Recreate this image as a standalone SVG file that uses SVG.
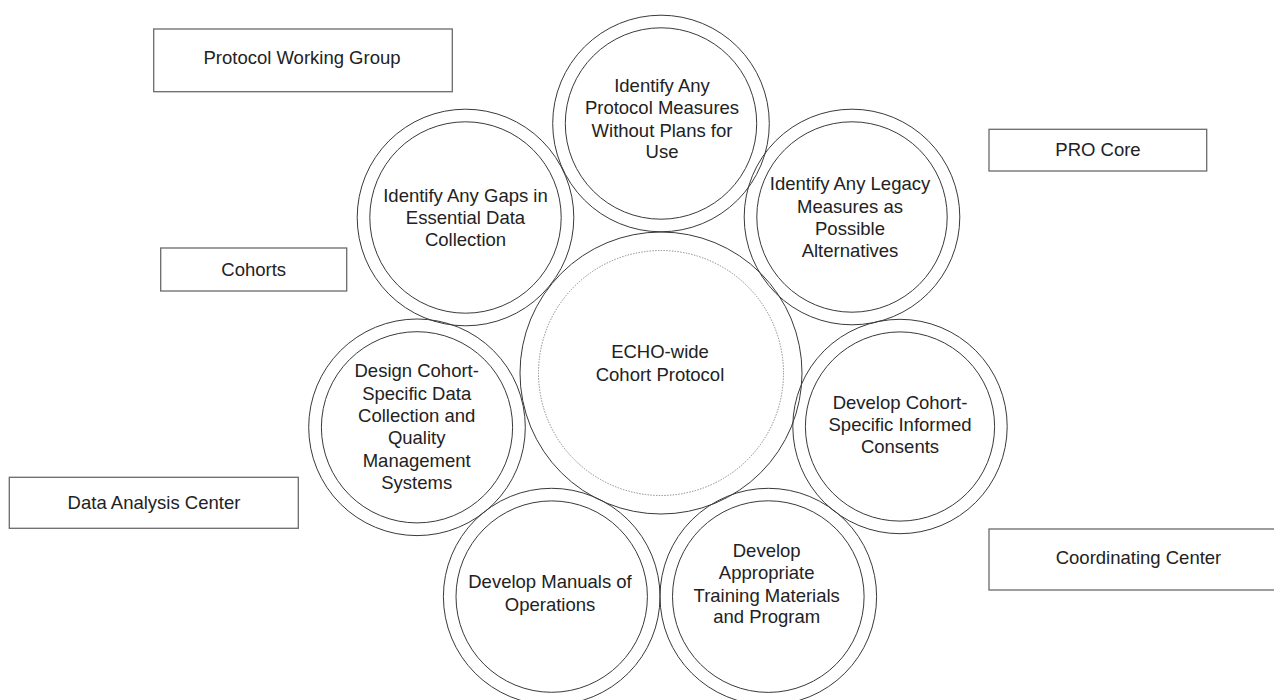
<svg xmlns="http://www.w3.org/2000/svg" width="1274" height="700" viewBox="0 0 1274 700">
<style>
  .bg { fill: #ffffff; }
  .box { fill: none; stroke: #6a6a6a; stroke-width: 1.3; }
  .ring { fill: none; stroke: #3a3a3a; stroke-width: 1; }
  .dots { fill: none; stroke: #7a7a7a; stroke-width: 0.9; stroke-dasharray: 1.4 1.4; }
  text { font-family: "Liberation Sans", Arial, Helvetica, sans-serif; font-size: 18.5px; fill: #222222; text-anchor: middle; }
</style>
<rect class="bg" x="0" y="0" width="1274" height="700"/>

<g id="connectors"></g>

<g id="center">
  <circle class="ring" cx="661" cy="373" r="141"/>
  <circle class="dots" cx="661" cy="373" r="122.5"/>
  <text x="660" y="358">ECHO-wide</text>
  <text x="660" y="380.7">Cohort Protocol</text>
</g>

<g id="top-measures">
  <circle class="ring" cx="661" cy="123.5" r="108.3"/>
  <circle class="ring" cx="661" cy="123.5" r="95.7"/>
  <text x="662" y="91.7">Identify Any</text>
  <text x="662" y="114.3">Protocol Measures</text>
  <text x="662" y="136.7">Without Plans for</text>
  <text x="662" y="158.3">Use</text>
</g>

<g id="gaps">
  <circle class="ring" cx="465.5" cy="217.5" r="108.3"/>
  <circle class="ring" cx="465.5" cy="217.5" r="95.7"/>
  <text x="465.5" y="201.7">Identify Any Gaps in</text>
  <text x="465.5" y="223.5">Essential Data</text>
  <text x="465.5" y="246">Collection</text>
</g>

<g id="legacy">
  <circle class="ring" cx="852" cy="217" r="107.8"/>
  <circle class="ring" cx="852" cy="217" r="95.2"/>
  <text x="850" y="190">Identify Any Legacy</text>
  <text x="850" y="212.7">Measures as</text>
  <text x="850" y="234.7">Possible</text>
  <text x="850" y="257.3">Alternatives</text>
</g>

<g id="design">
  <circle class="ring" cx="417" cy="427.3" r="108.3"/>
  <circle class="ring" cx="417" cy="427.3" r="95.6"/>
  <text x="416.7" y="377.3">Design Cohort-</text>
  <text x="416.7" y="399.6">Specific Data</text>
  <text x="416.7" y="421.9">Collection and</text>
  <text x="416.7" y="444.2">Quality</text>
  <text x="416.7" y="466.5">Management</text>
  <text x="416.7" y="488.8">Systems</text>
</g>

<g id="consents">
  <circle class="ring" cx="900" cy="426.5" r="107.2"/>
  <circle class="ring" cx="900" cy="426.5" r="94.6"/>
  <text x="900" y="409.3">Develop Cohort-</text>
  <text x="900" y="430.7">Specific Informed</text>
  <text x="900" y="453.3">Consents</text>
</g>

<g id="manuals">
  <circle class="ring" cx="551.7" cy="596.6" r="108.3"/>
  <circle class="ring" cx="551.7" cy="596.6" r="95.7"/>
  <text x="550" y="587.7">Develop Manuals of</text>
  <text x="550" y="610.7">Operations</text>
</g>

<g id="training">
  <circle class="ring" cx="768.3" cy="596.6" r="108.3"/>
  <circle class="ring" cx="768.3" cy="596.6" r="95.8"/>
  <text x="766.7" y="556.7">Develop</text>
  <text x="766.7" y="579.3">Appropriate</text>
  <text x="766.7" y="601.7">Training Materials</text>
  <text x="766.7" y="623.3">and Program</text>
</g>

<g id="protocol-working-group">
  <rect class="box" x="153.7" y="29" width="298.6" height="62.7"/>
  <text x="302" y="64.3">Protocol Working Group</text>
</g>

<g id="cohorts">
  <rect class="box" x="160.7" y="248" width="186" height="43"/>
  <text x="253.7" y="275.5">Cohorts</text>
</g>

<g id="pro-core">
  <rect class="box" x="989" y="129.3" width="217.7" height="41.7"/>
  <text x="1098" y="156">PRO Core</text>
</g>

<g id="data-analysis-center">
  <rect class="box" x="9.3" y="477.3" width="289" height="51"/>
  <text x="154" y="509">Data Analysis Center</text>
</g>

<g id="coordinating-center">
  <rect class="box" x="989" y="529" width="299" height="61"/>
  <text x="1138.5" y="563.5">Coordinating Center</text>
</g>
</svg>
